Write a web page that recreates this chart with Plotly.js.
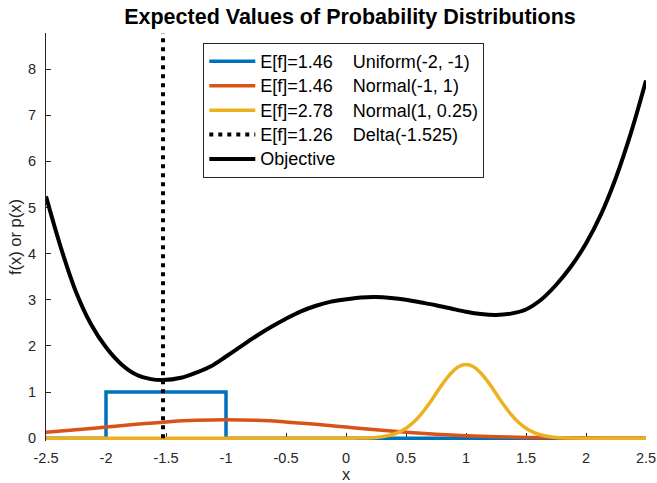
<!DOCTYPE html>
<html>
<head>
<meta charset="utf-8">
<script src="https://cdn.plot.ly/plotly-3.0.1.min.js"></script>
<style>html,body{margin:0;padding:0;background:#fff;}#chart{width:657px;height:483px;}</style>
</head>
<body>
<div id="chart"></div>
<script>
// ---- data ----
const objX = [-2.5, -2.375, -2.25, -2.125, -2.0, -1.875, -1.75, -1.625, -1.525, -1.375, -1.25, -1.125, -1.0, -0.875, -0.75, -0.625, -0.5, -0.375, -0.25, -0.125, 0.0, 0.125, 0.25, 0.375, 0.5, 0.625, 0.75, 0.875, 1.0, 1.125, 1.25, 1.375, 1.5, 1.625, 1.75, 1.875, 2.0, 2.125, 2.25, 2.375, 2.5];
const objY = [5.24, 4.12, 3.17, 2.47, 1.97, 1.61, 1.38, 1.28, 1.26, 1.31, 1.42, 1.56, 1.77, 1.99, 2.21, 2.41, 2.59, 2.75, 2.87, 2.96, 3.01, 3.05, 3.06, 3.04, 3.00, 2.94, 2.88, 2.81, 2.74, 2.69, 2.67, 2.70, 2.79, 3.00, 3.32, 3.72, 4.22, 4.85, 5.65, 6.62, 7.75];

const uniX = [-2.5, -2.0, -2.0, -1.0, -1.0, 2.5];
const uniY = [0, 0, 1, 1, 0, 0];

const n1X = [-2.5, -2.25, -2.0, -1.75, -1.5, -1.25, -1.0, -0.75, -0.5, -0.25, 0.0, 0.25, 0.5, 0.75, 1.0, 1.25, 1.5, 1.75, 2.0, 2.25, 2.5];
const n1Y = [0.130, 0.183, 0.242, 0.301, 0.352, 0.387, 0.399, 0.387, 0.352, 0.301, 0.242, 0.183, 0.130, 0.086, 0.054, 0.032, 0.018, 0.009, 0.004, 0.002, 0.001];

const n2X = [-2.5, 0.0, 0.125, 0.25, 0.3125, 0.375, 0.4375, 0.5, 0.5625, 0.625, 0.6875, 0.75, 0.8125, 0.875, 0.9375, 1.0, 1.0625, 1.125, 1.1875, 1.25, 1.3125, 1.375, 1.4375, 1.5, 1.5625, 1.625, 1.6875, 1.75, 1.875, 2.0, 2.5];
const n2Y = [0, 0.001, 0.004, 0.018, 0.036, 0.070, 0.127, 0.216, 0.345, 0.518, 0.731, 0.968, 1.205, 1.408, 1.547, 1.596, 1.547, 1.408, 1.205, 0.968, 0.731, 0.518, 0.345, 0.216, 0.127, 0.070, 0.036, 0.018, 0.004, 0.001, 0];

const deltaX = [-1.525, -1.525];
const deltaY = [0, 8.78];

const legendNames = [
  'E[f]=1.46\u00a0\u00a0\u00a0\u00a0Uniform(-2, -1)',
  'E[f]=1.46\u00a0\u00a0\u00a0\u00a0Normal(-1, 1)',
  'E[f]=2.78\u00a0\u00a0\u00a0\u00a0Normal(1, 0.25)',
  'E[f]=1.26\u00a0\u00a0\u00a0\u00a0Delta(-1.525)',
  'Objective'
];

const xTickVals = [-2.5, -2, -1.5, -1, -0.5, 0, 0.5, 1, 1.5, 2, 2.5];
const xTickText = ['-2.5', '-2', '-1.5', '-1', '-0.5', '0', '0.5', '1', '1.5', '2', '2.5'];
const yTickVals = [0, 1, 2, 3, 4, 5, 6, 7, 8];
const yTickText = ['0', '1', '2', '3', '4', '5', '6', '7', '8'];

// ---- chart ----
const FONT = 'Liberation Sans, Arial, Helvetica, sans-serif';
const AX = '#262626';
const Y_RANGE = [-0.06, 8.78];   // small pad below 0 so the baseline strokes are not clipped

const traces = [
  {x: uniX, y: uniY, mode: 'lines', name: legendNames[0], line: {color: '#0072BD', width: 3.5, shape: 'linear'}},
  {x: n1X, y: n1Y, mode: 'lines', name: legendNames[1], line: {color: '#D95319', width: 3.5, shape: 'spline'}},
  {x: n2X, y: n2Y, mode: 'lines', name: legendNames[2], line: {color: '#EDB120', width: 3.5, shape: 'spline'}},
  {x: deltaX, y: deltaY, mode: 'lines', name: legendNames[3], line: {color: '#000000', width: 4, dash: '4px,5px'}},
  {x: objX, y: objY, mode: 'lines', name: legendNames[4], line: {color: '#000000', width: 4, shape: 'spline', smoothing: 1}}
];

const wrap = s => '<span style="font-size:18px">' + s + '</span>';
traces.forEach(t => { t.name = wrap(t.name); });

const layout = {
  width: 657, height: 483,
  margin: {l: 46, r: 11, t: 33, b: 42, pad: 0},
  paper_bgcolor: '#ffffff', plot_bgcolor: '#ffffff',
  font: {family: FONT, color: AX, size: 14.5},
  title: {
    text: 'Expected Values of Probability Distributions',
    font: {family: FONT, size: 21.5, color: '#000000', weight: 'bold'},
    xref: 'container', yref: 'container',
    x: 350 / 657, xanchor: 'center',
    y: 1 - 16 / 483, yanchor: 'middle'
  },
  xaxis: {
    range: [-2.5, 2.5], tickvals: xTickVals, ticktext: xTickText,
    anchor: 'free', position: (0 - Y_RANGE[0]) / (Y_RANGE[1] - Y_RANGE[0]),
    layer: 'below traces',
    showline: true, linecolor: AX, linewidth: 1, mirror: false,
    ticks: 'inside', ticklen: 5, tickcolor: AX, tickwidth: 1,
    showgrid: false, zeroline: false,
    tickfont: {family: FONT, size: 14.5, color: AX},
    ticklabelstandoff: 6,
    title: {text: 'x', font: {family: FONT, size: 16.5, color: AX}, standoff: 10},
    automargin: false
  },
  yaxis: {
    range: Y_RANGE, tickvals: yTickVals, ticktext: yTickText,
    layer: 'below traces',
    showline: true, linecolor: AX, linewidth: 1, mirror: false,
    ticks: 'inside', ticklen: 5, tickcolor: AX, tickwidth: 1,
    showgrid: false, zeroline: false,
    tickfont: {family: FONT, size: 14.5, color: AX},
    ticklabelstandoff: 6,
    title: {text: 'f(x) or p(x)', font: {family: FONT, size: 16.5, color: AX}, standoff: 2},
    automargin: false
  },
  showlegend: true,
  legend: {
    x: (203.3 - 46) / 600, y: (441 - 43) / 408,
    xanchor: 'left', yanchor: 'top',
    bgcolor: '#ffffff', bordercolor: AX, borderwidth: 1,
    font: {family: FONT, size: 16.5, color: '#000000'},
    traceorder: 'normal', itemwidth: 46
  }
};

Plotly.newPlot('chart', traces, layout, {displayModeBar: false, staticPlot: true});
</script>
</body>
</html>
